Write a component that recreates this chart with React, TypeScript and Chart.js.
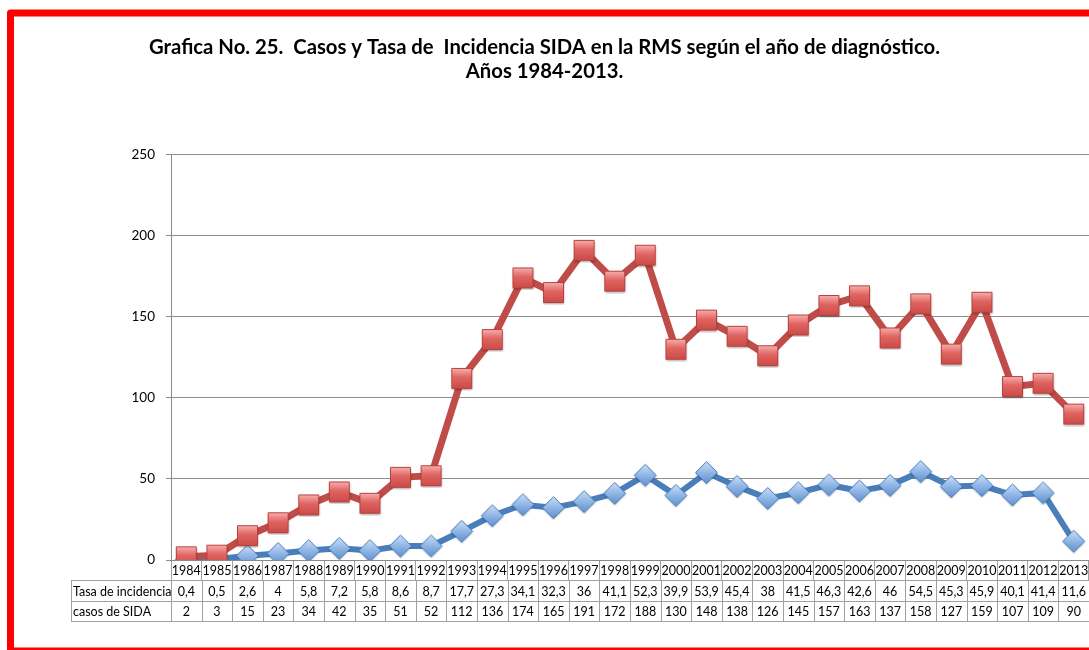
import React, { useEffect, useRef } from "react";
import { Chart, registerables } from "chart.js";

Chart.register(...registerables);

const years = ["1984","1985","1986","1987","1988","1989","1990","1991","1992","1993","1994","1995","1996","1997","1998","1999","2000","2001","2002","2003","2004","2005","2006","2007","2008","2009","2010","2011","2012","2013"];
const tasaIncidencia = [0.4,0.5,2.6,4,5.8,7.2,5.8,8.6,8.7,17.7,27.3,34.1,32.3,36,41.1,52.3,39.9,53.9,45.4,38,41.5,46.3,42.6,46,54.5,45.3,45.9,40.1,41.4,11.6];
const casosSida = [2,3,15,23,34,42,35,51,52,112,136,174,165,191,172,188,130,148,138,126,145,157,163,137,158,127,159,107,109,90];
const yTicks = [0, 50, 100, 150, 200, 250];
const titleLines = ["Grafica No. 25.  Casos y Tasa de  Incidencia SIDA en la RMS según el año de diagnóstico.", "Años 1984-2013."];
const rowLabels = ["Tasa de incidencia", "casos de SIDA"];

function fmt(v: number) {
  return String(v).replace(".", ",");
}

function makeSquare(): HTMLCanvasElement {
  const c = document.createElement("canvas");
  c.width = 25; c.height = 25;
  const ctx = c.getContext("2d")!;
  ctx.shadowColor = "rgba(0,0,0,0.35)";
  ctx.shadowBlur = 2;
  ctx.shadowOffsetY = 1;
  const g = ctx.createLinearGradient(0, 2, 0, 23);
  g.addColorStop(0, "#f7b3b1");
  g.addColorStop(0.45, "#e06461");
  g.addColorStop(1, "#c94b48");
  ctx.fillStyle = g;
  ctx.strokeStyle = "#b9403d";
  ctx.lineWidth = 1;
  ctx.beginPath();
  ctx.rect(2.5, 2.5, 20, 20);
  ctx.fill();
  ctx.shadowColor = "transparent";
  ctx.stroke();
  return c;
}

function makeDiamond(): HTMLCanvasElement {
  const c = document.createElement("canvas");
  c.width = 25; c.height = 25;
  const ctx = c.getContext("2d")!;
  ctx.shadowColor = "rgba(0,0,0,0.3)";
  ctx.shadowBlur = 2;
  ctx.shadowOffsetY = 1;
  const g = ctx.createLinearGradient(0, 1, 0, 24);
  g.addColorStop(0, "#cfe1f7");
  g.addColorStop(0.5, "#8fb6e6");
  g.addColorStop(1, "#5f8fcc");
  ctx.fillStyle = g;
  ctx.strokeStyle = "#4a7cba";
  ctx.lineWidth = 1;
  ctx.beginPath();
  ctx.moveTo(12.5, 1.5);
  ctx.lineTo(23.5, 12.5);
  ctx.lineTo(12.5, 23.5);
  ctx.lineTo(1.5, 12.5);
  ctx.closePath();
  ctx.fill();
  ctx.shadowColor = "transparent";
  ctx.stroke();
  return c;
}

const framePlugin = {
  id: "frame",
  beforeDraw(chart: any) {
    const ctx = chart.ctx;
    ctx.save();
    ctx.fillStyle = "#ffffff";
    ctx.fillRect(0, 0, chart.width, chart.height);
    ctx.strokeStyle = "#ff0000";
    ctx.lineWidth = 7;
    ctx.lineJoin = "round";
    ctx.strokeRect(10.5, 13, 1100, 638);
    ctx.restore();
  },
};

const tablePlugin = {
  id: "dataTable",
  afterDraw(chart: any) {
    const ctx = chart.ctx;
    const xs = chart.scales.x;
    const area = chart.chartArea;
    const n = years.length;
    const colW = (area.right - area.left) / n;
    const rowTops = [580, 601, 621];
    const leftX = 71;
    ctx.save();
    ctx.strokeStyle = "#a0a0a0";
    ctx.lineWidth = 1;
    ctx.beginPath();
    for (const y of rowTops) {
      ctx.moveTo(leftX, y + 0.5);
      ctx.lineTo(area.right, y + 0.5);
    }
    ctx.moveTo(leftX + 0.5, rowTops[0]);
    ctx.lineTo(leftX + 0.5, rowTops[2]);
    for (let i = 0; i <= n; i++) {
      const x = Math.round(area.left + i * colW) + 0.5;
      ctx.moveTo(x, rowTops[0]);
      ctx.lineTo(x, rowTops[2]);
    }
    ctx.stroke();
    ctx.fillStyle = "#000";
    ctx.font = "12.5px Lato";
    ctx.textBaseline = "middle";
    const rows = [tasaIncidencia, casosSida];
    for (let r = 0; r < 2; r++) {
      const cy = (rowTops[r] + rowTops[r + 1]) / 2 + 1;
      ctx.textAlign = "left";
      ctx.fillText(rowLabels[r], leftX + 2, cy);
      ctx.textAlign = "center";
      for (let i = 0; i < n; i++) {
        ctx.fillText(fmt(rows[r][i]), xs.getPixelForValue(i), cy);
      }
    }
    ctx.restore();
  },
};

export default function App() {
  const ref = useRef<HTMLCanvasElement>(null);
  useEffect(() => {
    const sq = makeSquare();
    const di = makeDiamond();
    const chart = new Chart(ref.current!, {
      type: "line",
      data: {
        labels: years,
        datasets: [
          {
            label: "casos de SIDA",
            data: casosSida,
            borderColor: "#bf4c49",
            borderWidth: 7,
            pointStyle: sq as any,
            pointRadius: 12,
            tension: 0,
          },
          {
            label: "Tasa de incidencia",
            data: tasaIncidencia,
            borderColor: "#4a7ebb",
            borderWidth: 6,
            pointStyle: di as any,
            pointRadius: 12,
            tension: 0,
          },
        ],
      },
      plugins: [framePlugin, tablePlugin],
      options: {
        responsive: false,
        animation: false,
        devicePixelRatio: 1,
        layout: { autoPadding: false, padding: { left: 0, right: 0, top: 0, bottom: 0 } },
        plugins: {
          legend: { display: false },
          tooltip: { enabled: false },
          title: {
            display: true,
            text: titleLines,
            color: "#000",
            font: { family: "Lato", size: 20.3, weight: "bold", lineHeight: 1.2 },
            padding: { top: 35, bottom: 71 },
          },
        },
        scales: {
          x: {
            offset: true,
            grid: {
              offset: true,
              drawOnChartArea: false,
              drawTicks: true,
              tickLength: 20,
              color: "#a0a0a0",
            },
            border: { color: "#8a8a8a" },
            ticks: {
              color: "#000",
              font: { family: "Lato", size: 12.5 },
              padding: -17,
              maxRotation: 0,
              autoSkip: false,
            },
            afterFit: (s: any) => { s.height = 90; s.paddingLeft = 0; s.paddingRight = 0; },
          },
          y: {
            min: 0,
            max: 250,
            afterBuildTicks: (s: any) => { s.ticks = yTicks.map((v) => ({ value: v })); },
            grid: { color: "#8c8c8c", tickLength: 5 },
            border: { color: "#8a8a8a" },
            ticks: {
              color: "#000",
              font: { family: "Lato", size: 13.5 },
              padding: 11,
            },
            afterFit: (s: any) => { s.width = 171; s.paddingLeft = 0; s.paddingRight = 0; },
          },
        },
      },
    });
    return () => chart.destroy();
  }, []);
  return (
    <div style={{ position: "fixed", left: 0, top: 0, width: 1089, height: 650, overflow: "hidden", background: "#fff" }}>
      <canvas ref={ref} width={1089} height={650} />
    </div>
  );
}
